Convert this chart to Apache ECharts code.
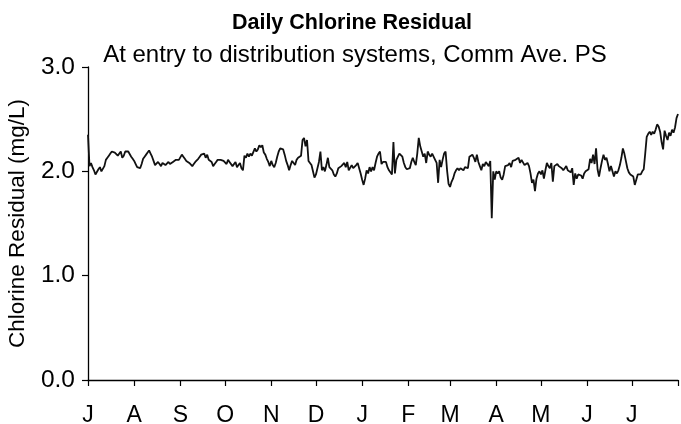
<!DOCTYPE html>
<html><head><meta charset="utf-8">
<script src="https://cdn.jsdelivr.net/npm/echarts@6/dist/echarts.min.js"></script>
<style>html,body{margin:0;padding:0;background:#fff}#c{width:681px;height:424px}</style>
</head><body><div id="c"></div>
<script>
const monthLabels = ["J","A","S","O","N","D","J","F","M","A","M","J","J"];
const monthDays = [31,31,30,31,30,31,31,28,31,30,31,30,31];
const yTicks = [0, 1, 2, 3];

const jul = [2.35,2.05,2.08,2.04,2.01,1.97,1.96,2.02,2.04,2.00,2.01,2.05,2.11,2.13,2.15,2.17,2.19,2.20,2.18,2.19,2.15,2.17,2.19,2.13,2.15,2.19,2.20,2.19,2.18,2.14,2.12];
const aug = [2.10,2.07,2.04,2.03,2.03,2.07,2.12,2.14,2.16,2.18,2.20,2.17,2.14,2.10,2.06,2.05,2.09,2.07,2.05,2.08,2.09,2.06,2.05,2.09,2.07,2.06,2.09,2.10,2.11,2.12,2.11];
const sep = [2.12,2.16,2.14,2.12,2.10,2.09,2.08,2.07,2.05,2.07,2.09,2.08,2.12,2.14,2.16,2.15,2.17,2.13,2.16,2.11,2.10,2.09,2.05,2.07,2.09,2.11,2.10,2.11,2.12,2.10];
const oct = [2.11,2.07,2.11,2.09,2.08,2.05,2.06,2.09,2.04,2.06,2.08,2.03,2.01,2.15,2.13,2.17,2.14,2.17,2.15,2.16,2.22,2.19,2.21,2.25,2.23,2.25,2.18,2.16,2.12,2.09,2.05];
const nov = [2.10,2.06,2.04,2.08,2.14,2.19,2.22,2.21,2.21,2.16,2.10,2.06,2.01,2.06,2.10,2.08,2.06,2.11,2.13,2.12,2.15,2.30,2.32,2.24,2.30,2.10,2.11,2.06,2.00,1.94];
const dec = [1.97,2.03,2.09,2.19,2.01,2.04,2.00,2.06,2.13,2.04,2.03,2.01,1.97,1.95,1.98,2.03,2.04,2.05,2.06,2.08,2.04,2.09,2.01,2.02,2.06,2.03,2.04,2.06,2.08,2.03,1.98];
const jan = [1.92,1.87,1.93,2.01,1.98,2.04,2.00,2.04,2.01,2.08,2.14,2.17,2.19,2.07,2.09,2.08,2.09,2.04,2.01,2.00,1.97,2.28,1.98,2.11,2.14,2.17,2.16,2.14,2.08,2.04,2.02];
const feb = [2.01,2.03,2.09,2.13,2.09,2.06,2.17,2.32,2.24,2.19,2.14,2.17,2.08,2.19,2.16,2.14,2.17,2.16,2.11,2.08,1.89,2.11,2.04,2.11,2.17,2.19,2.01,1.88];
const mar = [1.85,1.90,1.93,1.98,2.01,2.03,2.01,2.03,2.04,2.01,2.04,2.03,2.03,2.14,2.13,2.16,2.13,2.09,2.16,2.09,2.05,2.01,2.07,2.05,2.09,2.08,2.05,2.10,1.55,2.00,1.92];
const apr = [2.00,1.98,2.00,1.94,1.92,1.97,2.05,2.05,2.06,2.08,2.04,2.10,2.11,2.11,2.10,2.13,2.08,2.11,2.10,2.06,2.07,2.08,2.05,1.98,1.89,1.92,1.81,1.93,1.98,2.00];
const may = [1.97,2.01,1.93,2.01,2.08,2.05,2.03,2.08,1.90,2.05,2.06,2.07,2.05,2.04,2.03,2.01,2.03,2.05,2.01,2.00,1.99,2.03,1.87,1.98,1.93,1.97,1.98,1.96,1.93,1.98,2.00];
const jun = [2.01,2.02,2.12,2.08,2.16,2.07,2.22,2.02,1.95,2.03,2.10,2.16,2.11,2.13,2.07,2.00,2.05,2.00,1.95,2.00,1.98,2.01,2.06,2.13,2.22,2.17,2.10,2.03,1.99,1.97];
const jul2 = [1.96,1.95,1.87,1.92,1.97,1.98,1.97,2.00,2.02,2.17,2.33,2.36,2.38,2.35,2.38,2.36,2.40,2.45,2.43,2.38,2.28,2.21,2.39,2.34,2.30,2.37,2.34,2.40,2.37,2.42,2.51];
const lastDay = [2.55];

const values = [].concat(jul, aug, sep, oct, nov, dec, jan, feb, mar, apr, may, jun, jul2, lastDay);
const monthStarts = [];
let acc = 0;
monthDays.forEach(d => { monthStarts.push(acc); acc += d; });
monthStarts.push(acc);
const labelAt = {};
monthStarts.forEach((s, i) => { labelAt[s] = monthLabels[i] || ''; });
const categories = values.map((v, i) => String(i));

const FONT = "'Liberation Sans', Arial, sans-serif";
const chart = echarts.init(document.getElementById('c'), null, {renderer: 'canvas'});
chart.setOption({
  animation: false,
  backgroundColor: '#fff',
  title: [
    {text: 'Daily Chlorine Residual', left: 347, top: 7, textAlign: 'center',
     textStyle: {fontFamily: FONT, fontSize: 21.5, fontWeight: 'bold', color: '#000'}},
    {text: 'At entry to distribution systems, Comm Ave. PS', left: 350, top: 38, textAlign: 'center',
     textStyle: {fontFamily: FONT, fontSize: 24, fontWeight: 'normal', color: '#000'}}
  ],
  grid: {left: 88, right: 3, top: 67, bottom: 44, containLabel: false, outerBoundsMode: 'none'},
  xAxis: {
    type: 'category', data: categories, boundaryGap: false,
    axisLine: {lineStyle: {color: '#000', width: 1.3}},
    axisTick: {show: true, length: 6, interval: idx => idx in labelAt, lineStyle: {color: '#000', width: 1.2}},
    axisLabel: {interval: idx => idx in labelAt, formatter: (v, idx) => labelAt[idx] || '',
      fontFamily: FONT, fontSize: 23, color: '#000', margin: 24},
    splitLine: {show: false}
  },
  yAxis: {
    type: 'value', min: yTicks[0], max: yTicks[yTicks.length - 1], interval: 1,
    name: 'Chlorine Residual (mg/L)', nameLocation: 'middle', nameGap: 59, nameMoveOverlap: false,
    nameTextStyle: {fontFamily: FONT, fontSize: 22.5, color: '#000'},
    axisLine: {show: true, lineStyle: {color: '#000', width: 1.3}},
    axisTick: {show: true, length: 6, lineStyle: {color: '#000', width: 1.2}},
    axisLabel: {formatter: v => v.toFixed(1), fontFamily: FONT, fontSize: 24.5, color: '#000', margin: 13},
    splitLine: {show: false}
  },
  series: [{
    type: 'line', data: values, showSymbol: false, symbol: 'none',
    lineStyle: {color: '#111', width: 1.8}
  }]
});
</script></body></html>
